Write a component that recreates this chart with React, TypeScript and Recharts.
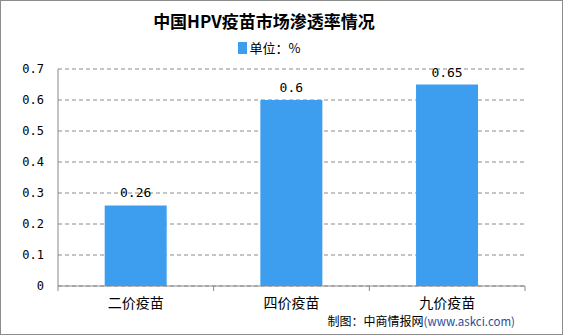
import { BarChart, Bar, XAxis, YAxis, CartesianGrid, LabelList } from 'recharts';

const categories = ['二价疫苗', '四价疫苗', '九价疫苗'];
const penetration = [0.26, 0.6, 0.65];
const yTicks = [0, 0.1, 0.2, 0.3, 0.4, 0.5, 0.6, 0.7];

const BLUE = '#3d9ef0';
const AXIS = '#8a8a8a';
const CJK = '"Noto Sans CJK SC", sans-serif';
const MONO = '"DejaVu Sans Mono", monospace';

const TICK_SIZE = 6;
const TICK_MARGIN = 6;

const data = categories.map((name, i) => ({ name, value: penetration[i] }));

// category label + boundary tick marks between categories (as in the original)
function CategoryTick(props: any) {
  const { x, y, payload, index, width, visibleTicksCount } = props;
  const half = width / visibleTicksCount / 2;
  const axisY = y - TICK_SIZE - TICK_MARGIN;
  return (
    <g>
      {index === 0 && <line x1={x - half} x2={x - half} y1={axisY} y2={axisY + 5} stroke={AXIS} />}
      <line x1={x + half} x2={x + half} y1={axisY} y2={axisY + 5} stroke={AXIS} />
      <text x={x} y={y} dy="0.71em" textAnchor="middle" fill="#000" fontSize={14} fontFamily={CJK}>
        {payload.value}
      </text>
    </g>
  );
}

export default function App() {
  return (
    <div style={{ position: 'absolute', left: 0, top: 0, width: 563, height: 335, background: '#fff', boxSizing: 'border-box', border: '1px solid #8c8c8c' }}>
      <div style={{ position: 'absolute', top: 7, left: 0, width: 526, textAlign: 'center', fontFamily: CJK, fontWeight: 'bold', fontSize: 17, color: '#000' }}>
        中国HPV疫苗市场渗透率情况
      </div>
      <div style={{ position: 'absolute', top: 37, left: 0, width: 536, display: 'flex', justifyContent: 'center', alignItems: 'center', fontFamily: CJK, fontSize: 13, color: '#000' }}>
        <span style={{ display: 'inline-block', width: 9, height: 12, background: BLUE, marginRight: 3 }} />
        <span>单位：%</span>
      </div>
      <div style={{ position: 'absolute', left: -1, top: -1 }}>
        <BarChart width={563} height={335} data={data} margin={{ top: 69, right: 38, bottom: 0, left: 8 }} barCategoryGap="30%">
          <CartesianGrid vertical={false} stroke={AXIS} strokeDasharray="4 3" />
          <YAxis
            domain={[0, 0.7]}
            ticks={yTicks}
            interval={0}
            width={50}
            axisLine={{ stroke: AXIS }}
            tickLine={false}
            tickMargin={8}
            tick={{ fill: '#000', fontSize: 12, fontFamily: MONO }}
          />
          <XAxis
            dataKey="name"
            height={49}
            axisLine={{ stroke: AXIS }}
            tickLine={false}
            tickSize={TICK_SIZE}
            tickMargin={TICK_MARGIN}
            tick={<CategoryTick />}
          />
          <Bar dataKey="value" fill={BLUE} isAnimationActive={false} maxBarSize={63}>
            <LabelList dataKey="value" position="top" offset={8} fill="#000" fontSize={13} fontFamily={MONO} />
          </Bar>
        </BarChart>
      </div>
      <div style={{ position: 'absolute', right: 47, top: 311, fontFamily: CJK, fontSize: 12, color: '#000', whiteSpace: 'nowrap' }}>
        制图：中商情报网<span style={{ color: '#2a4c9c', fontSize: 11.5 }}>(www.askci.com)</span>
      </div>
    </div>
  );
}
